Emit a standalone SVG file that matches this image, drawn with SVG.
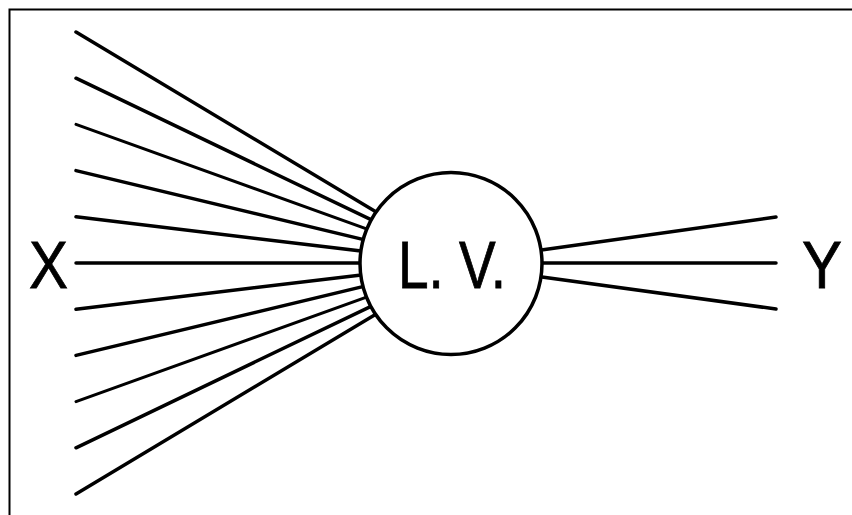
<svg xmlns="http://www.w3.org/2000/svg" width="852" height="515" viewBox="0 0 852 515">
<style>
.ln{stroke:#000;stroke-width:3.5;stroke-linecap:round;fill:none}
.lbl{font-family:"Liberation Sans",Arial,sans-serif;font-size:66px;fill:#000;stroke:#000;stroke-width:0.8}
</style>
<rect width="852" height="515" fill="#fff"/>
<polyline points="9.5,515 9.5,9.5 852,9.5" fill="none" stroke="#000" stroke-width="2"/>
<g id="connectors">
<line class="ln" x1="76" y1="32" x2="395" y2="223.3"/>
<line class="ln" x1="76" y1="78.2" x2="395" y2="231.2"/>
<line class="ln" x1="76" y1="124.4" x2="395" y2="239.2" style="stroke-width:3"/>
<line class="ln" x1="76" y1="170.6" x2="395" y2="247.1"/>
<line class="ln" x1="76" y1="216.8" x2="395" y2="255.1"/>
<line class="ln" x1="76" y1="263" x2="395" y2="263"/>
<line class="ln" x1="76" y1="309.2" x2="395" y2="270.9"/>
<line class="ln" x1="76" y1="355.4" x2="395" y2="278.9"/>
<line class="ln" x1="76" y1="401.6" x2="395" y2="286.8" style="stroke-width:3"/>
<line class="ln" x1="76" y1="447.8" x2="395" y2="294.8"/>
<line class="ln" x1="76" y1="494" x2="395" y2="302.7"/>
<line class="ln" x1="520" y1="253" x2="776" y2="217"/>
<line class="ln" x1="520" y1="263" x2="776" y2="263"/>
<line class="ln" x1="520" y1="274" x2="776" y2="309"/>
</g>
<g id="lv">
<circle cx="451" cy="263.5" r="91" fill="#fff" stroke="#000" stroke-width="3.5"/>
<text class="lbl" x="398" y="288" textLength="108" lengthAdjust="spacingAndGlyphs">L. V.</text>
</g>
<g id="x"><text class="lbl" x="29" y="288" textLength="39" lengthAdjust="spacingAndGlyphs">X</text></g>
<g id="y"><text class="lbl" x="802" y="288" textLength="40" lengthAdjust="spacingAndGlyphs">Y</text></g>
</svg>
